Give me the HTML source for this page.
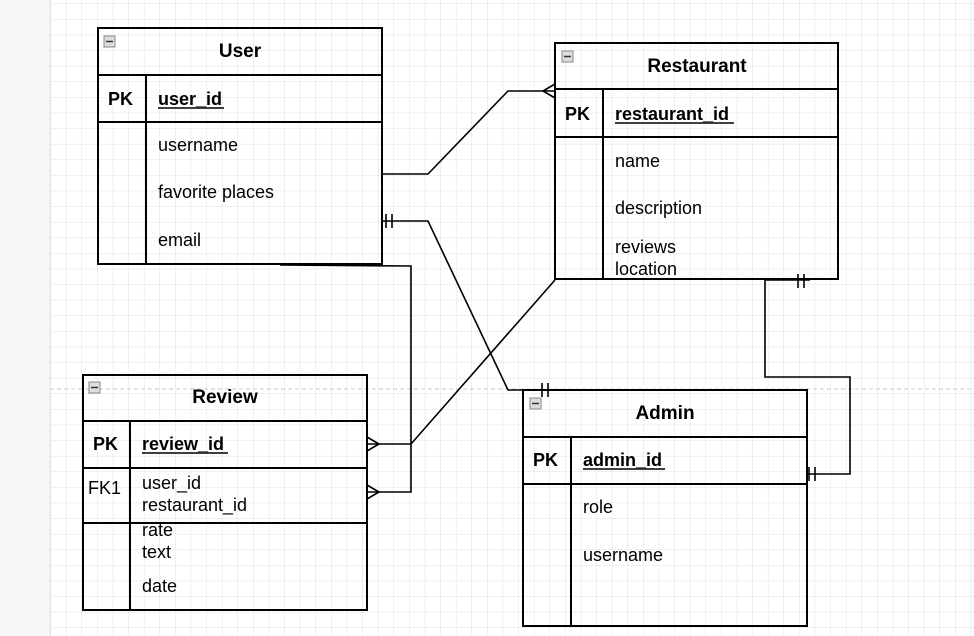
<!DOCTYPE html>
<html><head><meta charset="utf-8"><style>
html,body{margin:0;padding:0;width:974px;height:636px;overflow:hidden;background:#fff}
svg{display:block}
text{font-family:"Liberation Sans",Arial,sans-serif;fill:#000}
.t{font-size:19px;font-weight:bold}
.b{font-size:18px;font-weight:bold}
.n{font-size:18px}
</style></head><body>
<svg width="974" height="636" viewBox="0 0 974 636">
<defs>
<pattern id="g" x="4" y="4" width="15.6" height="15.6" patternUnits="userSpaceOnUse">
<path d="M15.6 0V15.6M0 15.6H15.6" stroke="#e0e0e0" stroke-width="1" fill="none"/>
</pattern>
</defs>
<rect x="0" y="0" width="974" height="636" fill="#fff"/>
<rect x="50" y="0" width="924" height="636" fill="url(#g)"/>
<rect x="0" y="0" width="49" height="636" fill="#f7f7f7"/>
<line x1="50" y1="0" x2="50" y2="636" stroke="#e0e0e0"/>
<line x1="50" y1="389" x2="974" y2="389" stroke="#c8c8c8" stroke-dasharray="4,3"/>

<g fill="none" stroke="#000" stroke-width="2">
<rect x="98" y="28" width="284" height="236"/>
<line x1="98" y1="75" x2="382" y2="75"/><line x1="98" y1="122" x2="382" y2="122"/>
<line x1="146" y1="75" x2="146" y2="264"/>
<rect x="555" y="43" width="283" height="236"/>
<line x1="555" y1="89" x2="838" y2="89"/><line x1="555" y1="137" x2="838" y2="137"/>
<line x1="603" y1="89" x2="603" y2="279"/>
<rect x="83" y="375" width="284" height="235"/>
<line x1="83" y1="421" x2="367" y2="421"/><line x1="83" y1="468" x2="367" y2="468"/>
<line x1="83" y1="523" x2="367" y2="523"/>
<line x1="130" y1="421" x2="130" y2="610"/>
<rect x="523" y="390" width="284" height="236"/>
<line x1="523" y1="437" x2="807" y2="437"/><line x1="523" y1="484" x2="807" y2="484"/>
<line x1="571" y1="437" x2="571" y2="626"/>
</g>

<g fill="none" stroke="#000" stroke-width="1.6">
<polyline points="382,174 428,174 508,91 555,91"/>
<polyline points="555,84 543,91 555,98"/>
<polyline points="382,221 428,221 508,390 548,390"/>
<line x1="386" y1="214" x2="386" y2="228"/><line x1="392" y1="214" x2="392" y2="228"/>
<line x1="542" y1="383" x2="542" y2="397"/><line x1="548" y1="383" x2="548" y2="397"/>
<polyline points="280,265 411,266 411,492 367,492"/>
<polyline points="367,444 411,444 555,280"/>
<polyline points="367,437 379,444 367,451"/>
<polyline points="367,485 379,492 367,499"/>
<polyline points="765,280 765,377 850,377 850,474 807,474"/>
<line x1="765" y1="280" x2="810" y2="280"/>
<line x1="798" y1="274" x2="798" y2="288"/><line x1="804" y1="274" x2="804" y2="288"/>
<line x1="809" y1="467" x2="809" y2="481"/><line x1="815" y1="467" x2="815" y2="481"/>
</g>

<g>
<rect x="104" y="36" width="11" height="11" fill="#ddd" stroke="#888"/><line x1="106" y1="41.5" x2="113" y2="41.5" stroke="#333" stroke-width="1.5"/>
<rect x="562" y="51" width="11" height="11" fill="#ddd" stroke="#888"/><line x1="564" y1="56.5" x2="571" y2="56.5" stroke="#333" stroke-width="1.5"/>
<rect x="89" y="382" width="11" height="11" fill="#ddd" stroke="#888"/><line x1="91" y1="387.5" x2="98" y2="387.5" stroke="#333" stroke-width="1.5"/>
<rect x="530" y="398" width="11" height="11" fill="#ddd" stroke="#888"/><line x1="532" y1="403.5" x2="539" y2="403.5" stroke="#333" stroke-width="1.5"/>
</g>

<text class="t" x="240" y="57" text-anchor="middle">User</text>
<text class="b" x="108" y="105">PK</text>
<text class="b" x="158" y="105">user_id</text>
<line x1="158" y1="108" x2="224" y2="108" stroke="#000" stroke-width="1.5"/>
<text class="n" x="158" y="151">username</text>
<text class="n" x="158" y="198">favorite places</text>
<text class="n" x="158" y="246">email</text>

<text class="t" x="697" y="72" text-anchor="middle">Restaurant</text>
<text class="b" x="565" y="120">PK</text>
<text class="b" x="615" y="120">restaurant_id</text>
<line x1="615" y1="123" x2="734" y2="123" stroke="#000" stroke-width="1.5"/>
<text class="n" x="615" y="167">name</text>
<text class="n" x="615" y="214">description</text>
<text class="n" x="615" y="253">reviews</text>
<text class="n" x="615" y="275">location</text>

<text class="t" x="225" y="403" text-anchor="middle">Review</text>
<text class="b" x="93" y="450">PK</text>
<text class="b" x="142" y="450">review_id</text>
<line x1="142" y1="453" x2="228" y2="453" stroke="#000" stroke-width="1.5"/>
<text class="n" x="88" y="494">FK1</text>
<text class="n" x="142" y="489">user_id</text>
<text class="n" x="142" y="511">restaurant_id</text>
<text class="n" x="142" y="536">rate</text>
<text class="n" x="142" y="558">text</text>
<text class="n" x="142" y="592">date</text>

<text class="t" x="665" y="419" text-anchor="middle">Admin</text>
<text class="b" x="533" y="466">PK</text>
<text class="b" x="583" y="466">admin_id</text>
<line x1="583" y1="469" x2="665" y2="469" stroke="#000" stroke-width="1.5"/>
<text class="n" x="583" y="513">role</text>
<text class="n" x="583" y="561">username</text>
</svg>
</body></html>
